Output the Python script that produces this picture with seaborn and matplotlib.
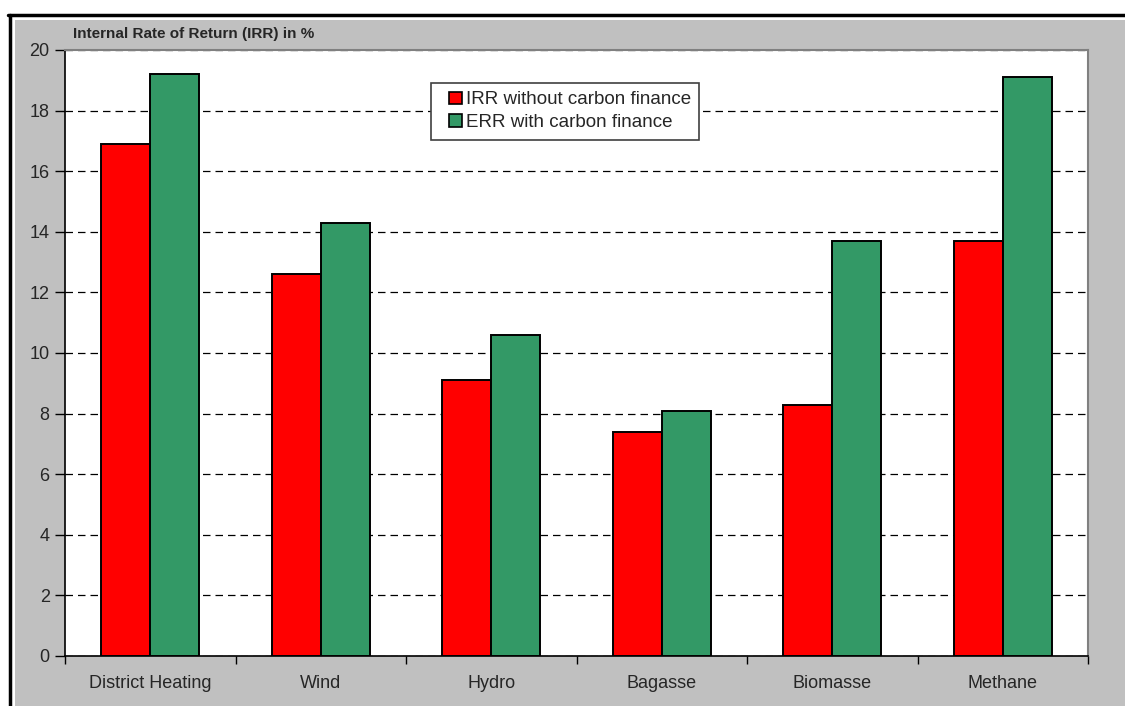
import matplotlib
matplotlib.use("Agg")
import matplotlib.pyplot as plt
from matplotlib.patches import Rectangle
from matplotlib.lines import Line2D
from matplotlib.legend_handler import HandlerPatch
import seaborn as sns
import pandas as pd

# Project types and their internal rates of return (%)
categories = ["District Heating", "Wind", "Hydro", "Bagasse", "Biomasse", "Methane"]
irr_without_carbon = [16.9, 12.6, 9.1, 7.4, 8.3, 13.7]
err_with_carbon = [19.2, 14.3, 10.6, 8.1, 13.7, 19.1]
series_names = ["IRR without carbon finance", "ERR with carbon finance"]
y_ticks = [0, 2, 4, 6, 8, 10, 12, 14, 16, 18, 20]

df = pd.DataFrame({
    "Project": categories * 2,
    "Rate": irr_without_carbon + err_with_carbon,
    "Series": [series_names[0]] * len(categories) + [series_names[1]] * len(categories),
})

sns.set_theme(style="white")
plt.rcParams["font.family"] = ["Liberation Sans", "DejaVu Sans"]

W, H = 1125, 706
fig = plt.figure(figsize=(W / 100, H / 100), dpi=100, facecolor="white")

# grey chart area with black frame, kept behind the axes
fig.patches.append(Rectangle((15 / W, 0), 1 - 15 / W, 1 - 20 / H, transform=fig.transFigure,
                             facecolor="#C0C0C0", edgecolor="none", zorder=-10))
fig.lines.append(Line2D([8 / W, 1], [1 - 15 / H, 1 - 15 / H], transform=fig.transFigure,
                        color="black", lw=2.5, zorder=-5))
fig.lines.append(Line2D([9.5 / W, 9.5 / W], [0, 1 - 15 / H], transform=fig.transFigure,
                        color="black", lw=2.5, zorder=-5))

left, right, top, bottom = 65, 1088, 50, 656
ax = fig.add_axes([left / W, 1 - bottom / H, (right - left) / W, (bottom - top) / H])
ax.set_zorder(1)
ax.set_facecolor("white")

sns.barplot(data=df, x="Project", y="Rate", hue="Series", order=categories,
            hue_order=series_names, palette=["#FF0000", "#339966"],
            width=0.575, edgecolor="black", linewidth=1.4, saturation=1,
            ax=ax, zorder=3, legend=True)

ax.set_ylim(0, 20)
ax.set_xlim(-0.5, len(categories) - 0.5)
ax.set_yticks(y_ticks)
ax.set_yticklabels([str(t) for t in y_ticks], fontsize=13)
ax.yaxis.grid(True, color="black", linestyle=(0, (6, 4)), linewidth=0.9)
ax.set_axisbelow(True)
ax.set_xlabel("")
ax.set_ylabel("")

# category boundaries carry the tick marks, centres carry the labels
ax.set_xticks([i - 0.5 for i in range(len(categories) + 1)])
ax.set_xticklabels([])
ax.set_xticks(range(len(categories)), minor=True)
ax.set_xticklabels(categories, minor=True, fontsize=13)
ax.tick_params(axis="x", which="major", direction="out", length=6, width=1, color="black", bottom=True)
ax.tick_params(axis="x", which="minor", length=0, pad=14, bottom=True)
ax.tick_params(axis="y", direction="out", length=7, width=1, color="black", pad=4, left=True)

for side in ["left", "bottom"]:
    ax.spines[side].set_color("black")
    ax.spines[side].set_linewidth(1.2)
for side in ["top", "right"]:
    ax.spines[side].set_color("#808080")
    ax.spines[side].set_linewidth(1.5)

fig.text(73 / W, 1 - 34 / H, "Internal Rate of Return (IRR) in %", fontsize=11,
         fontweight="bold", va="center", ha="left")


def square_key(legend, orig_handle, xdescent, ydescent, width, height, fontsize):
    # small square key pushed to the right end of the handle box
    s = height
    return Rectangle((-xdescent + width - s, -ydescent), s, s)


handles, labels = ax.get_legend_handles_labels()
leg = ax.legend(handles, labels, loc="upper left", bbox_to_anchor=(431 / W, 1 - 83 / H),
                bbox_transform=fig.transFigure, fontsize=13.5, frameon=True,
                fancybox=False, edgecolor="#404040", framealpha=1,
                handlelength=1.2, handleheight=0.65, handletextpad=0.2,
                borderpad=0.45, labelspacing=0.3, borderaxespad=0,
                handler_map={Rectangle: HandlerPatch(patch_func=square_key)})
leg.get_frame().set_linewidth(1.2)
for h in leg.legend_handles:
    h.set_edgecolor("black")
    h.set_linewidth(1.2)

fig.savefig("out.png", dpi=100, facecolor=fig.get_facecolor())
